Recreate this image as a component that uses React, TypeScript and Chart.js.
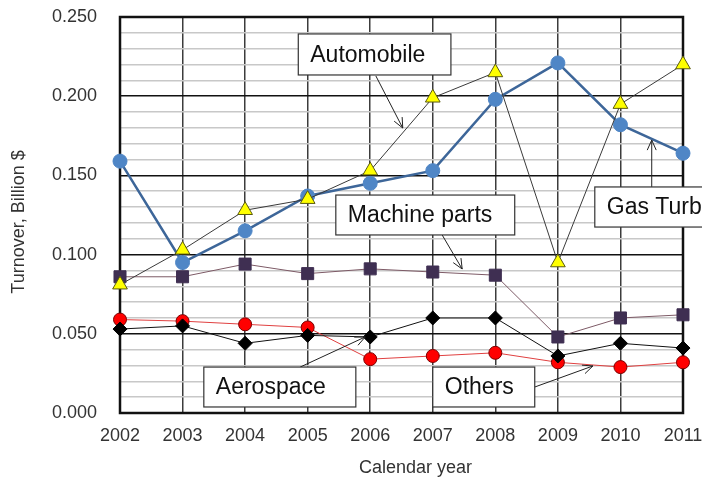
import React, { useEffect, useRef } from "react";
import { Chart, registerables } from "chart.js";

Chart.register(...registerables);

const years = ["2002", "2003", "2004", "2005", "2006", "2007", "2008", "2009", "2010", "2011"];
const gasTurbine = [0.159, 0.095, 0.115, 0.137, 0.145, 0.153, 0.198, 0.221, 0.182, 0.164];
const automobile = [0.081, 0.103, 0.128, 0.135, 0.153, 0.199, 0.215, 0.095, 0.195, 0.220];
const machineParts = [0.086, 0.086, 0.094, 0.088, 0.091, 0.089, 0.087, 0.048, 0.060, 0.062];
const aerospace = [0.053, 0.055, 0.044, 0.049, 0.048, 0.060, 0.060, 0.036, 0.044, 0.041];
const others = [0.059, 0.058, 0.056, 0.054, 0.034, 0.036, 0.038, 0.032, 0.029, 0.032];
const yMax = 0.25;
const yMinorStep = 0.01;
const yMajorStep = 0.05;

const xTitle = "Calendar year";
const yTitle = "Turnover, Billion $";

// Callout labels, positioned in data units (year, value)
const callouts = [
  { text: "Automobile", box: [2004.85, 0.2393, 2007.29, 0.2134], arrow: [2006.09, 0.2128, 2006.52, 0.1799] },
  { text: "Machine parts", box: [2005.45, 0.1376, 2008.31, 0.1124], arrow: [2007.15, 0.1124, 2007.47, 0.0909] },
  { text: "Gas Turbine", box: [2009.59, 0.1427, 2012.3, 0.1174], arrow: [2010.5, 0.1427, 2010.5, 0.1723] },
  { text: "Aerospace", box: [2003.34, 0.029, 2005.77, 0.0038], arrow: [2004.88, 0.029, 2005.92, 0.048] },
  { text: "Others", box: [2007.0, 0.029, 2008.63, 0.0038], arrow: [2008.63, 0.0164, 2009.56, 0.0297] },
];

const FONT = "'Liberation Sans', Arial, sans-serif";

const overlayPlugin = {
  id: "overlay",
  beforeDatasetsDraw(chart: any) {
    const { ctx, chartArea } = chart;
    ctx.save();
    ctx.strokeStyle = "#111";
    ctx.lineWidth = 2.5;
    ctx.strokeRect(chartArea.left, chartArea.top, chartArea.right - chartArea.left, chartArea.bottom - chartArea.top);
    ctx.restore();
  },
  afterDraw(chart: any) {
    const { ctx, chartArea, scales } = chart;
    const xs = scales.x;
    const ys = scales.y;
    const px = (yr: number) => xs.getPixelForValue(yr - Number(years[0]));
    const py = (v: number) => ys.getPixelForValue(v);
    ctx.save();
    // axis titles
    ctx.fillStyle = "#333";
    ctx.font = `18px ${FONT}`;
    ctx.textAlign = "center";
    ctx.textBaseline = "middle";
    ctx.fillText(xTitle, (chartArea.left + chartArea.right) / 2 + 14, chartArea.bottom + 55);
    ctx.save();
    ctx.translate(chartArea.left - 101, (chartArea.top + chartArea.bottom) / 2 + 7);
    ctx.rotate(-Math.PI / 2);
    ctx.fillText(yTitle, 0, 0);
    ctx.restore();

    for (const c of callouts) {
      const [ax1, ay1, ax2, ay2] = c.arrow;
      const sx = px(ax1), sy = py(ay1), tx = px(ax2), ty = py(ay2);
      ctx.strokeStyle = "#222";
      ctx.lineWidth = 1;
      ctx.beginPath();
      ctx.moveTo(sx, sy);
      ctx.lineTo(tx, ty);
      const ang = Math.atan2(ty - sy, tx - sx);
      const L = 11;
      const spread = 0.42;
      ctx.moveTo(tx - L * Math.cos(ang - spread), ty - L * Math.sin(ang - spread));
      ctx.lineTo(tx, ty);
      ctx.lineTo(tx - L * Math.cos(ang + spread), ty - L * Math.sin(ang + spread));
      ctx.stroke();

      const [bx1, by1, bx2, by2] = c.box;
      const x1 = px(bx1), y1 = py(by1), x2 = px(bx2), y2 = py(by2);
      ctx.fillStyle = "#fff";
      ctx.fillRect(x1, y1, x2 - x1, y2 - y1);
      ctx.strokeStyle = "#333";
      ctx.lineWidth = 1.2;
      ctx.strokeRect(x1, y1, x2 - x1, y2 - y1);
      ctx.fillStyle = "#111";
      ctx.font = `23px ${FONT}`;
      ctx.textAlign = "left";
      ctx.textBaseline = "middle";
      ctx.fillText(c.text, x1 + 12, (y1 + y2) / 2 + 1);
    }
    ctx.restore();
  },
};

export default function App() {
  const ref = useRef<HTMLCanvasElement | null>(null);
  useEffect(() => {
    document.body.style.margin = "0";
    const canvas = ref.current!;
    const chart = new Chart(canvas, {
      type: "line",
      data: {
        labels: years,
        datasets: [
          {
            label: "Automobile",
            data: automobile,
            borderColor: "#3a3a3a",
            borderWidth: 1,
            pointStyle: "triangle",
            pointRadius: 8.5,
            pointBackgroundColor: "#ffff00",
            pointBorderColor: "#5a5a10",
            pointBorderWidth: 1,
            order: 0,
          },
          {
            label: "Gas Turbine",
            data: gasTurbine,
            borderColor: "#3d6699",
            borderWidth: 2.5,
            pointStyle: "circle",
            pointRadius: 7,
            pointBackgroundColor: "#4f86c6",
            pointBorderColor: "#4f86c6",
            pointBorderWidth: 1,
            order: 1,
          },
          {
            label: "Machine parts",
            data: machineParts,
            borderColor: "#7d5a66",
            borderWidth: 1,
            pointStyle: "rect",
            pointRadius: 8.5,
            pointBackgroundColor: "#3f2f52",
            pointBorderColor: "#3f2f52",
            pointBorderWidth: 1,
            order: 2,
          },
          {
            label: "Aerospace",
            data: aerospace,
            borderColor: "#111",
            borderWidth: 1,
            pointStyle: "rectRot",
            pointRadius: 7,
            pointBackgroundColor: "#000",
            pointBorderColor: "#000",
            pointBorderWidth: 1,
            order: 3,
          },
          {
            label: "Others",
            data: others,
            borderColor: "#e04040",
            borderWidth: 1,
            pointStyle: "circle",
            pointRadius: 6.5,
            pointBackgroundColor: "#ff0000",
            pointBorderColor: "#7a0000",
            pointBorderWidth: 1,
            order: 4,
          },
        ],
      },
      options: {
        responsive: false,
        animation: false,
        layout: { padding: { left: 0, top: 17, right: 19, bottom: 0 } },
        plugins: { legend: { display: false }, tooltip: { enabled: false } },
        elements: { line: { tension: 0 } },
        scales: {
          x: {
            type: "category",
            offset: false,
            border: { display: false },
            grid: { color: "#3c3c3c", lineWidth: 1.5, drawTicks: false },
            ticks: {
              color: "#333",
              font: { size: 18, family: FONT },
              padding: 12,
              maxRotation: 0,
              autoSkip: false,
            },
            afterFit: (s: any) => {
              s.height = 66;
              s.paddingLeft = 0;
              s.paddingRight = 0;
            },
          },
          y: {
            type: "linear",
            min: 0,
            max: yMax,
            border: { display: false },
            grid: {
              drawTicks: false,
              lineWidth: 1.5,
              color: (c: any) => {
                const v = Math.round((c.tick?.value ?? 0) * 1000);
                return v % Math.round(yMajorStep * 1000) === 0 ? "#111" : "#c8c8c8";
              },
            },
            ticks: {
              stepSize: yMinorStep,
              autoSkip: false,
              color: "#333",
              font: { size: 18, family: FONT },
              padding: 23,
              callback: (v: any) => {
                const m = Math.round(Number(v) * 1000);
                return m % Math.round(yMajorStep * 1000) === 0 ? (m / 1000).toFixed(3) : "";
              },
            },
            afterFit: (s: any) => {
              s.width = 120;
              s.paddingTop = 0;
              s.paddingBottom = 0;
            },
          },
        },
      },
      plugins: [overlayPlugin],
    } as any);
    return () => chart.destroy();
  }, []);
  return (
    <div style={{ position: "absolute", left: 0, top: 0, width: 702, height: 479, background: "#fff" }}>
      <canvas ref={ref} width={702} height={479} style={{ display: "block" }} />
    </div>
  );
}
